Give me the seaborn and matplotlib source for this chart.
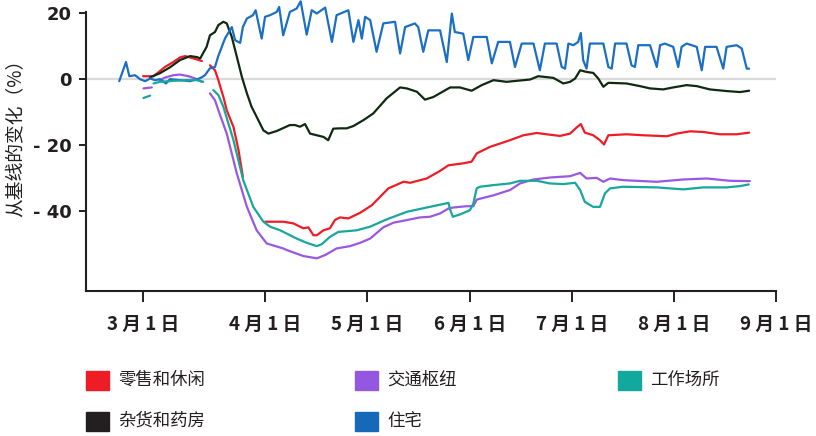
import numpy as np
import pandas as pd
import matplotlib
matplotlib.use("Agg")
import matplotlib.pyplot as plt
from matplotlib.patches import Rectangle
import seaborn as sns

# ---- data (x = days since 15 Feb, y = % change from baseline; NaN = gap) ----
nan = np.nan
res_x = [2.6, 4.6, 5.6, 7.3, 8.8, 10.3, 11.8, 13.3, 14.7, 16.5, 17.7, 23.7, 26.7, 28.1, 29.6, 31.1, 32.0,
         34.1, 36.1, 37.1, 38.6, 39.4, 40.6, 42.4, 43.2, 45.0, 46.0, 47.5, 49.5, 50.2, 51.4, 53.4, 55.4,
         56.6, 58.4, 59.9, 61.4, 63.9, 65.9, 67.3, 70.8, 72.3, 73.8, 74.8, 75.8, 77.3, 79.2, 81.2, 84.7,
         86.2, 87.7, 90.6, 91.6, 93.1, 94.6, 98.1, 100.1, 101.6, 102.5, 105.0, 106.5, 108.0, 112.0, 113.5,
         115.4, 118.9, 120.4, 122.4, 125.9, 127.8, 129.3, 132.8, 134.3, 135.3, 136.3, 137.8, 139.2, 140.0,
         140.7, 141.7, 142.7, 146.7, 148.2, 149.2, 150.2, 153.6, 155.1, 156.1, 157.1, 160.6, 162.6, 163.6,
         165.0, 167.5, 169.0, 170.0, 171.5, 174.5, 176.0, 177.0, 180.4, 182.4, 183.4, 186.4, 187.9, 189.4,
         190.1]
res_y = [-0.6, 5.2, 0.9, 1.2, 0.0, -0.6, 0.2, -0.3, 0.0, -1.3, 0.0, -0.6, 0.3, 1.2, 3.3, 3.7, 6.8,
         12.4, 15.8, 11.8, 11.0, 15.8, 18.4, 19.4, 20.9, 12.3, 18.9, 19.4, 20.4, 21.9, 13.3, 20.4, 21.4,
         23.6, 13.5, 20.9, 19.9, 21.7, 11.3, 19.4, 20.9, 11.3, 17.9, 12.3, 18.9, 17.9, 8.3, 16.9, 17.4,
         7.8, 15.8, 16.9, 15.8, 8.3, 14.8, 14.8, 5.2, 19.9, 14.3, 13.8, 5.8, 12.8, 12.8, 4.8,
         11.3, 11.3, 3.7, 10.8, 10.8, 2.7, 10.8, 10.8, 3.7, 3.2, 10.8, 10.3, 11.3, 14.0,
         5.8, 3.2, 10.8, 10.8, 3.7, 3.2, 10.8, 10.8, 4.2, 3.7, 10.3, 10.3, 3.7, 10.3,
         10.8, 9.8, 3.7, 9.8, 10.8, 9.8, 2.7, 9.8, 9.8, 3.2, 9.8, 10.3, 9.3, 3.2,
         3.2]

gro_x = [11.8, 14.7, 17.7, 20.7, 23.7, 25.7, 26.7, 28.6, 29.6, 31.1, 32.1, 33.6, 34.6, 36.1, 37.6, 39.1,
         40.6, 42.0, 43.5, 45.5, 47.0, 49.5, 53.4, 54.9, 56.4, 57.9, 59.4, 61.4, 63.4, 64.8, 66.3, 68.3,
         70.3, 72.3, 75.3, 78.2, 82.2, 86.2, 88.2, 91.2, 93.6, 96.1, 101.1, 104.0, 107.5, 110.5, 114.0,
         117.9, 124.9, 127.3, 131.8, 134.8, 136.8, 138.3, 139.8, 141.7, 143.7, 145.2, 146.7, 148.2, 153.6,
         157.6, 160.6, 164.5, 167.5, 171.5, 174.5, 178.4, 183.4, 187.4, 190.1]
gro_y = [0.6, 1.8, 3.6, 5.8, 7.0, 6.7, 6.3, 9.8, 13.3, 14.3, 16.4, 17.4, 16.9, 12.8, 6.8, 0.7,
         -4.3, -8.4, -11.4, -15.5, -16.5, -15.7, -13.9, -13.9, -14.4, -13.6, -16.5, -17.0, -17.5, -18.5, -15.0, -14.9,
         -14.9, -14.2, -12.4, -10.4, -5.8, -2.5, -2.8, -3.8, -6.2, -5.4, -2.5, -2.5, -3.5, -1.8, -0.3,
         -0.8, -0.1, 0.9, 0.4, -1.3, -0.8, 0.2, 2.7, 2.2, 1.9, 0.2, -2.3, -1.1, -1.3,
         -2.1, -2.8, -3.1, -2.5, -1.8, -2.1, -3.1, -3.6, -3.9, -3.5]

ret_x = [9.7, 12.8, 13.8, 16.2, 18.7, 20.7, 22.2, 24.7, 27.2, 28.4, 29.6, 31.1, 32.1, 33.6, 34.6, 36.6,
         38.1, 39.4, 42.0, 46.0, 51.4, 54.4, 57.4, 58.9, 60.4, 61.4, 63.4, 65.3, 66.8, 68.3, 70.8, 74.3,
         77.8, 82.7, 87.2, 89.2, 94.1, 98.1, 100.6, 105.0, 107.5, 109.0, 113.0, 118.9, 122.9, 126.9,
         129.8, 133.8, 136.8, 138.8, 140.0, 141.2, 143.7, 145.7, 146.9, 148.2, 153.6, 158.6, 165.6,
         168.5, 172.5, 176.4, 181.4, 186.4, 190.1]
ret_y = [0.9, 0.9, 1.7, 3.7, 5.2, 6.6, 7.0, 6.3, 5.5, nan, 4.2, 2.7, -0.3, -5.4, -9.4, -14.5,
         -21.5, -29.6, nan, -43.2, -43.2, -43.7, -45.2, -44.9, -47.3, -47.3, -45.8, -45.2, -42.7, -41.9, -42.2, -40.5,
         -38.2, -33.1, -31.1, -31.4, -30.1, -27.8, -26.1, -25.5, -25.0, -22.5, -20.5, -18.5, -17.0, -16.3,
         -16.7, -17.2, -16.5, -14.6, -13.6, -16.2, -17.0, -18.5, -19.8, -17.0, -16.7, -17.0, -17.3,
         -16.5, -15.8, -16.0, -16.7, -16.7, -16.2]

tra_x = [9.8, 12.3, 13.5, 14.7, 16.2, 18.7, 20.7, 23.2, 25.2, 27.2, 28.4, 29.6, 31.1, 32.1, 34.6, 37.6,
         40.6, 43.5, 46.5, 51.4, 52.5, 57.4, 61.4, 63.9, 67.3, 71.3, 74.3, 77.3, 81.2, 84.2, 88.2, 92.1,
         95.1, 98.1, 100.6, 102.0, 106.0, 108.0, 109.0, 114.0, 118.9, 121.9, 125.9, 130.8, 136.8, 139.8,
         141.7, 144.7, 146.7, 148.7, 152.6, 162.6, 170.5, 177.5, 184.4, 190.3]
tra_y = [-2.8, -2.5, nan, -0.3, 0.5, 1.2, 1.4, 0.9, 0.2, -0.8, nan, -4.3, -6.4, -9.4, -16.5, -28.6,
         -38.7, -45.8, -49.8, -51.3, -51.8, -53.6, -54.3, -53.3, -51.3, -50.6, -49.6, -48.3, -44.9, -43.5, -42.7, -41.9,
         -41.7, -40.7, -39.2, -38.9, -38.5, -38.5, -36.5, -35.2, -33.6, -31.6, -30.4, -29.8, -29.4, -28.4,
         -30.1, -29.9, -31.1, -30.1, -30.6, -31.1, -30.4, -30.1, -30.8, -30.9]

wor_x = [9.8, 11.8, 12.3, 12.8, 14.7, 18.7, 22.7, 25.7, 27.6, 29.1, 30.6, 32.1, 33.6, 36.6, 39.5, 42.5,
         45.5, 47.5, 50.5, 55.4, 58.4, 61.4, 62.9, 65.3, 67.8, 73.3, 77.3, 82.2, 88.2, 94.1, 100.6, 101.1,
         101.9, 104.0, 107.0, 108.0, 109.0, 110.0, 114.0, 118.9, 121.9, 126.9, 130.8, 134.8, 138.3, 139.8,
         141.2, 143.7, 145.7, 147.2, 148.7, 152.6, 162.6, 170.5, 176.4, 183.4, 187.4, 190.0]
wor_y = [-5.7, -5.0, nan, -1.3, -0.8, -0.5, -0.3, -0.3, -0.8, nan, -3.3, -4.8, -8.4, -18.5, -30.6, -38.7,
         -43.2, -44.7, -45.8, -48.3, -49.6, -50.6, -50.0, -47.8, -46.3, -45.8, -44.7, -42.5, -40.2, -38.9, -37.5, -39.5,
         -41.7, -41.0, -39.7, -37.7, -33.1, -32.6, -32.1, -31.6, -30.8, -30.8, -31.6, -31.8, -31.4, -33.6,
         -37.2, -38.7, -38.7, -34.6, -33.1, -32.6, -32.8, -33.4, -32.8, -32.8, -32.4, -31.9]

series_names = ["零售和休闲", "杂货和药房", "交通枢纽", "住宅", "工作场所"]
line_colors = ["#ee1c25", "#0f2a10", "#9a58e2", "#1a6fc4", "#17a79b"]
legend_colors = ["#ee1c25", "#231f20", "#9457e0", "#1569b8", "#12a89d"]
tick_pos = [9.7, 46, 76.4, 107, 137.4, 167.7, 198.1]
tick_labels = ["3 月 1 日", "4 月 1 日", "5 月 1 日", "6 月 1 日", "7 月 1 日", "8 月 1 日", "9 月 1 日"]
y_ticks = [20, 0, -20, -40]
y_tick_labels = ["20", "0", "- 20", "- 40"]

# ---- build long table with segment ids (NaN breaks a line) ----
frames = []
for name, xs, ys in zip(series_names, [ret_x, gro_x, tra_x, res_x, wor_x],
                        [ret_y, gro_y, tra_y, res_y, wor_y]):
    ys = np.asarray(ys, dtype=float)
    seg = np.cumsum(np.isnan(ys))
    df = pd.DataFrame({"day": xs, "val": ys, "series": name,
                       "seg": [f"{name}_{s}" for s in seg]})
    frames.append(df.dropna())
data = pd.concat(frames, ignore_index=True)

sns.set_theme(style="ticks")
plt.rcParams["font.family"] = ["Noto Sans CJK SC", "DejaVu Sans"]

fig = plt.figure(figsize=(8.16, 4.36), dpi=100)
# axes span from figure top to the x axis line at y=291 px
ax = fig.add_axes([86 / 816, 1 - 291 / 436, 690 / 816, 291 / 436])

ax.axhline(0, color="#dadada", lw=1.6, zorder=0)
sns.lineplot(data=data, x="day", y="val", hue="series", units="seg", estimator=None,
             sort=False, palette=dict(zip(series_names, line_colors)),
             hue_order=series_names, legend=False, lw=1.6, ax=ax)

ax.set_xlim(-7.3, 198.1)
ax.set_ylim(-64.2, 24.0)
ax.spines["left"].set_bounds(-64.2, 20.3)
ax.set_xticks(tick_pos)
ax.set_xticklabels(tick_labels, fontsize=13.5, fontweight="bold", color="#231f20")
ax.set_yticks(y_ticks)
ax.set_yticklabels(y_tick_labels, fontsize=13, fontweight="bold", color="#231f20",
                   family=["DejaVu Sans"])
ax.tick_params(axis="x", length=8, width=1.4, color="#231f20", pad=9)
ax.tick_params(axis="y", length=5, width=1.4, color="#231f20", pad=5)
ax.set_xlabel("")
ax.set_ylabel("从基线的变化（%）", fontsize=13.5, color="#231f20")
ax.yaxis.set_label_coords(-0.087, 0.54)
for side in ["top", "right"]:
    ax.spines[side].set_visible(False)
for side in ["left", "bottom"]:
    ax.spines[side].set_color("#231f20")
    ax.spines[side].set_linewidth(1.5)

# ---- legend (two rows, three columns) ----
slots = [(86, 380), (86, 421), (355, 380), (355, 421), (618, 380)]
for (px, py), name, col in zip(slots, series_names, legend_colors):
    fig.patches.append(Rectangle((px / 816, 1 - (py + 9.5) / 436), 23 / 816, 19 / 436,
                                 transform=fig.transFigure, color=col))
    fig.text((px + 32) / 816, 1 - py / 436, name, fontsize=12.5, va="center",
             ha="left", color="#231f20")

fig.savefig("out.png", dpi=100)
